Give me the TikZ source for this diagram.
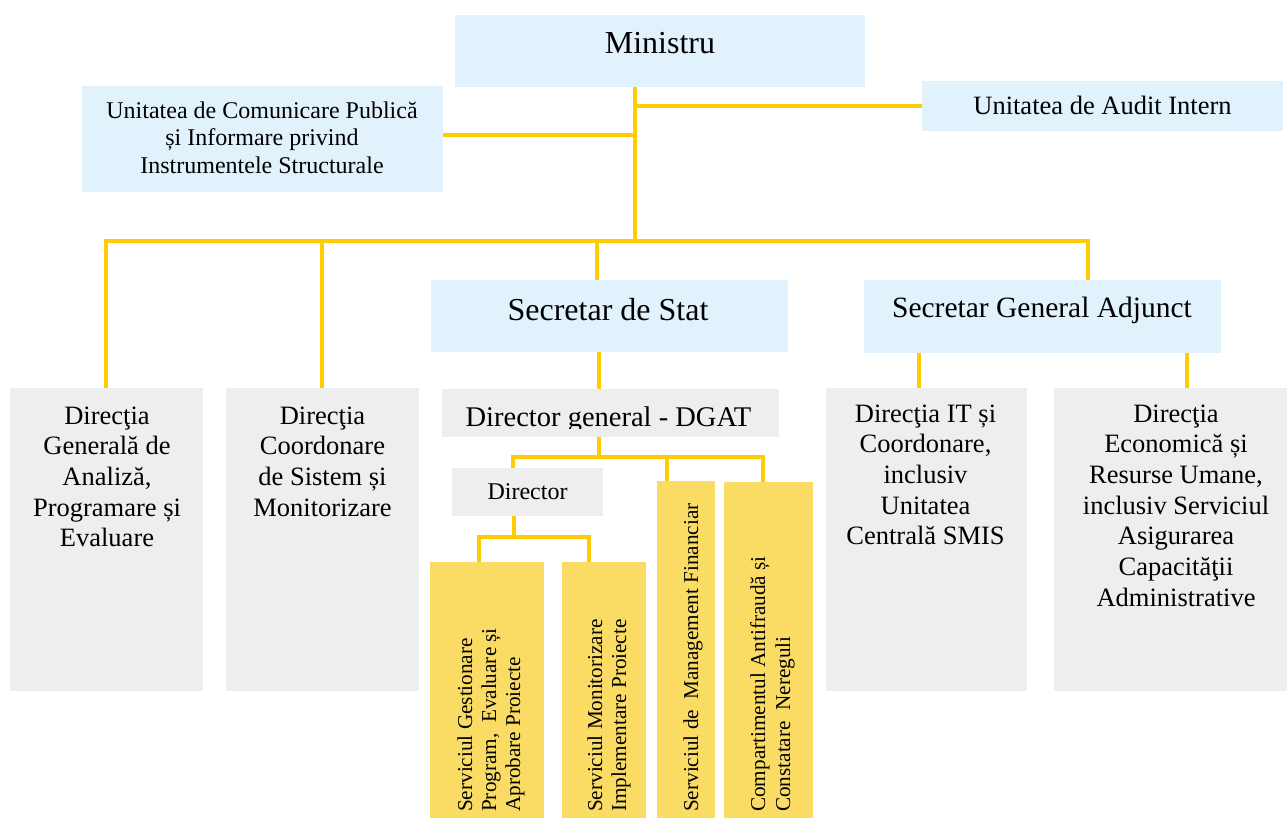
\documentclass[tikz,border=0pt]{standalone}
\usepackage{fontspec}
\setmainfont{Liberation Serif}
\usetikzlibrary{fit}
\definecolor{lnc}{RGB}{255,204,0}
\definecolor{bluef}{RGB}{226,242,252}
\definecolor{greyf}{RGB}{238,238,238}
\definecolor{yelf}{RGB}{250,220,100}
\newcommand{\myfs}[2]{\fontsize{#1}{#2}\selectfont}
\begin{document}
\begin{tikzpicture}[x=1pt,y=-1pt,
 conn/.style={draw=lnc, line width=4pt},
 bb/.style={inner sep=0pt, outer sep=0pt, fill=bluef},
 gb/.style={inner sep=0pt, outer sep=0pt, fill=greyf},
 yb/.style={inner sep=0pt, outer sep=0pt, fill=yelf},
 lbl/.style={inner sep=0pt, anchor=base},
 vlbl/.style={inner sep=0pt, anchor=base west, rotate=90}]
\useasboundingbox (0,0) rectangle (1287,818);

% boxes
\node[bb, fit={(455,15) (865,87)}] (ministru) {};
\node[bb, fit={(82,86) (443,192)}] (com) {};
\node[bb, fit={(922,81) (1283,131)}] (audit) {};
\node[bb, fit={(431,280) (788,352)}] (ss) {};
\node[bb, fit={(864,280) (1221,353)}] (sga) {};
\node[gb, fit={(442,389) (779,437)}] (dgat) {};
\node[gb, fit={(452,468) (603,516)}] (dir) {};
\node[yb, fit={(430,562) (544,818)}] (y1) {};
\node[yb, fit={(562,562) (646,818)}] (y2) {};
\node[yb, fit={(657,481) (715,818)}] (y3) {};
\node[yb, fit={(724,482) (813,818)}] (y4) {};
\node[gb, fit={(10,388) (203,691)}] (g1) {};
\node[gb, fit={(226,388) (419,691)}] (g2) {};
\node[gb, fit={(826,388) (1027,691)}] (g3) {};
\node[gb, fit={(1054,388) (1298,691)}] (g4) {};

% connectors
\coordinate (tr) at (635,241);
\draw[conn] (tr |- ministru.south) -- (tr);
\draw[conn] (tr |- audit.west) -- (audit.west);
\coordinate (c1) at (635,135);
\draw[conn] (c1) -- (c1 -| com.east);
\coordinate (b1) at (106,241);
\coordinate (b4) at (1088,241);
\draw[conn] (b1 |- g1.north) -- (b1) -- (b4) -- (b4 |- sga.north);
\coordinate (b2) at (322,241);
\draw[conn] (b2) -- (b2 |- g2.north);
\coordinate (b3) at (597,241);
\draw[conn] (b3) -- (b3 |- ss.north);
\coordinate (s1) at (599,0);
\draw[conn] (s1 |- ss.south) -- (s1 |- dgat.north);
\coordinate (s2) at (919,0);
\draw[conn] (s2 |- sga.south) -- (s2 |- g3.north);
\coordinate (s3) at (1187,0);
\draw[conn] (s3 |- sga.south) -- (s3 |- g4.north);
\coordinate (d0) at (599,457);
\draw[conn] (d0 |- dgat.south) -- (d0);
\coordinate (d1) at (513,457);
\coordinate (d3) at (667,457);
\coordinate (d4) at (763,457);
\draw[conn] (d1 |- dir.north) -- (d1) -- (d4) -- (d4 |- y4.north);
\draw[conn] (d3) -- (d3 |- y3.north);
\coordinate (e0) at (514,537);
\draw[conn] (e0 |- dir.south) -- (e0);
\coordinate (e1) at (479,537);
\coordinate (e2) at (589,537);
\draw[conn] (e1 |- y1.north) -- (e1) -- (e2) -- (e2 |- y2.north);

% texts
\node[lbl, font=\myfs{32}{38}] (ministru-t) at (660,54) {Ministru};
\node[lbl, font=\myfs{24}{27.5}] (com-t) at (262,118.3) {\begin{tabular}[t]{@{}c@{}}Unitatea de Comunicare Publică\\și Informare privind\\Instrumentele Structurale\end{tabular}};
\node[lbl, font=\myfs{26.5}{31}] (audit-t) at (1102.5,115) {Unitatea de Audit Intern};
\node[lbl, font=\myfs{32}{38}] (ss-t) at (608,320) {Secretar de Stat};
\node[lbl, font=\myfs{29.5}{35}] (sga-t) at (1042,317) {Secretar General Adjunct};
\begin{scope}
\clip (442,389) rectangle (779,428);
\node[lbl, font=\myfs{28.5}{33}] (dgat-t) at (608.5,426) {Director general - DGAT};
\end{scope}
\node[lbl, font=\myfs{24}{28}] (dir-t) at (527.5,499) {Director};

\node[lbl, font=\myfs{26.5}{30.7}] (g1-t) at (107,424) {\begin{tabular}[t]{@{}c@{}}Direcţia\\Generală de\\Analiză,\\Programare și\\Evaluare\end{tabular}};
\node[lbl, font=\myfs{26.5}{30.7}] (g2-t) at (322.5,424) {\begin{tabular}[t]{@{}c@{}}Direcţia\\Coordonare\\de Sistem și\\Monitorizare\end{tabular}};
\node[lbl, font=\myfs{26.5}{30.7}] (g3-t) at (925.5,422) {\begin{tabular}[t]{@{}c@{}}Direcţia IT și\\Coordonare,\\inclusiv\\Unitatea\\Centrală SMIS\end{tabular}};
\node[lbl, font=\myfs{26.5}{30.7}] (g4-t) at (1176,422) {\begin{tabular}[t]{@{}c@{}}Direcţia\\Economică și\\Resurse Umane,\\inclusiv Serviciul\\Asigurarea\\Capacităţii\\Administrative\end{tabular}};

\node[vlbl, font=\myfs{21.2}{24}] (y1-t) at (472,812) {\begin{tabular}[t]{@{}l@{}}Serviciul Gestionare\\Program,~ Evaluare și\\Aprobare Proiecte\end{tabular}};
\node[vlbl, font=\myfs{21.2}{24}] (y2-t) at (602,812) {\begin{tabular}[t]{@{}l@{}}Serviciul Monitorizare\\Implementare Proiecte\end{tabular}};
\node[vlbl, font=\myfs{21.2}{24}] (y3-t) at (698,812) {Serviciul de~ Management Financiar};
\node[vlbl, font=\myfs{21.2}{25}] (y4-t) at (765,812) {\begin{tabular}[t]{@{}l@{}}Compartimentul Antifraudă și\\Constatare~ Nereguli\end{tabular}};
\end{tikzpicture}
\end{document}
